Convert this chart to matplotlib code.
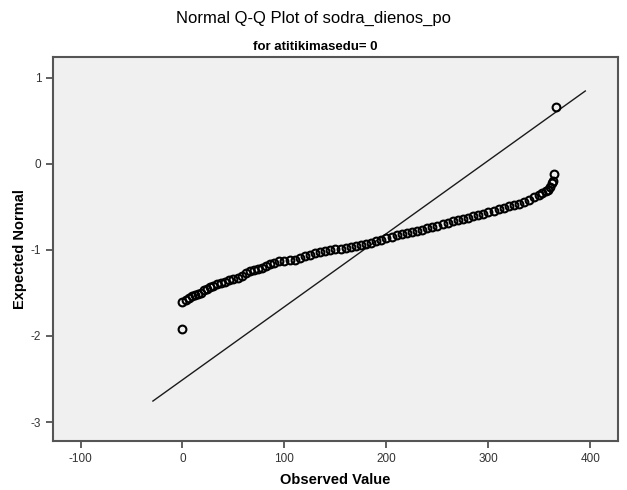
"""Normal Q-Q plot of sodra_dienos_po (SPSS style) -> out.png"""

import matplotlib

matplotlib.use("Agg")
import matplotlib.pyplot as plt

observed = [
    0, 3, 6, 9, 12, 15, 18, 21, 24, 27, 30, 34, 38, 42, 46, 50, 54, 58, 62, 66,
    70, 74, 78, 82, 86, 90, 95, 100, 105, 110, 115, 120, 125, 130, 135, 140,
    145, 150, 155, 160, 165, 170, 175, 180, 185, 190, 195, 200, 205, 210, 215,
    220, 225, 230, 235, 240, 245, 250, 255, 260, 265, 270, 275, 280, 285, 290,
    295, 300, 305, 310, 315, 320, 325, 330, 335, 340, 345, 350, 353, 356, 358,
    360, 362, 363,
]
expected = [
    -1.60, -1.58, -1.56, -1.54, -1.53, -1.51, -1.50, -1.47, -1.45, -1.43,
    -1.415, -1.40, -1.385, -1.37, -1.355, -1.34, -1.325, -1.30, -1.27, -1.25,
    -1.235, -1.22, -1.205, -1.19, -1.17, -1.15, -1.13, -1.125, -1.12, -1.115,
    -1.095, -1.075, -1.055, -1.04, -1.025, -1.01, -1.0, -0.99, -0.985, -0.975,
    -0.965, -0.955, -0.945, -0.93, -0.915, -0.895, -0.88, -0.86, -0.845, -0.83,
    -0.815, -0.80, -0.79, -0.78, -0.765, -0.75, -0.735, -0.72, -0.705, -0.69,
    -0.67, -0.655, -0.64, -0.625, -0.61, -0.595, -0.58, -0.56, -0.545, -0.525,
    -0.51, -0.495, -0.48, -0.465, -0.445, -0.42, -0.39, -0.365, -0.345, -0.32,
    -0.30, -0.265, -0.225, -0.20,
]
# isolated points at both ends
outlier_x = [0, 364, 366]
outlier_y = [-1.92, -0.12, 0.66]

# reference line endpoints
line_x = [-29, 395]
line_y = [-2.756, 0.845]

x_ticks = [-100, 0, 100, 200, 300, 400]
y_ticks = [-3, -2, -1, 0, 1]

plt.rcParams["font.family"] = ["Liberation Sans", "DejaVu Sans"]
plt.rcParams["axes.unicode_minus"] = False

fig = plt.figure(figsize=(6.27, 4.90), dpi=100)
ax = fig.add_axes([0.0845, 0.1, 0.901, 0.7837])
ax.set_facecolor("#f0f0f0")

ax.plot(line_x, line_y, color="#1a1a1a", lw=1.0, zorder=2)
ax.plot(observed, expected, "o", ms=5.6, mfc="none", mec="black", mew=1.5, zorder=3)
ax.plot(outlier_x, outlier_y, "o", ms=5.6, mfc="none", mec="black", mew=1.5, zorder=3)

ax.set_xlim(-127, 427)
ax.set_ylim(-3.22, 1.24)
ax.set_xticks(x_ticks)
ax.set_yticks(y_ticks)
ax.tick_params(direction="out", length=5, width=1.2, color="#444444",
               labelsize=8.5, labelcolor="#333333")

for side in ["left", "bottom", "top", "right"]:
    ax.spines[side].set_color("#555555")
    ax.spines[side].set_linewidth(1.5)

ax.set_xlabel("Observed Value", fontsize=10.5, fontweight="bold", labelpad=6)
ax.set_ylabel("Expected Normal", fontsize=10.5, fontweight="bold", labelpad=3)

fig.text(0.5, 0.963, "Normal Q-Q Plot of sodra_dienos_po", ha="center",
         va="center", fontsize=12)
fig.text(0.503, 0.904, "for atitikimasedu= 0", ha="center", va="center",
         fontsize=9.5, fontweight="bold")

fig.savefig("out.png", dpi=100)
plt.close(fig)
